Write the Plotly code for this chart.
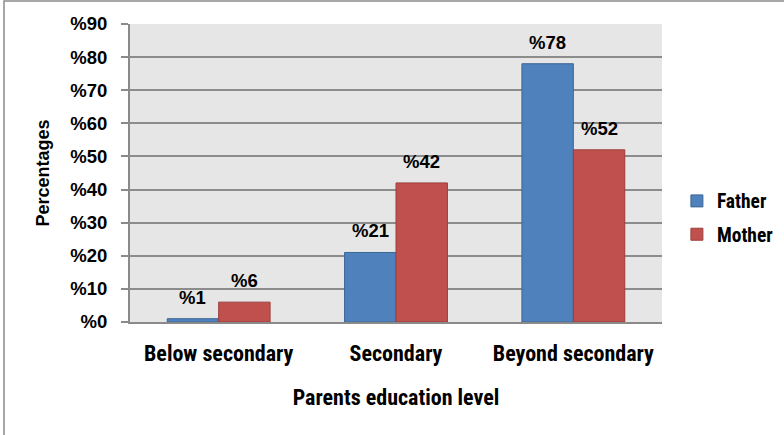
import plotly.graph_objects as go

categories = ["Below secondary", "Secondary", "Beyond secondary"]
father = [1, 21, 78]
mother = [6, 42, 52]
y_ticks = [0, 10, 20, 30, 40, 50, 60, 70, 80, 90]
y_tick_text = [f"%{t}" for t in y_ticks]

W, H = 784, 435
L, R, T, B = 130, 122, 24, 113
pw, ph = W - L - R, H - T - B
BARGAP = 0.42

narrow = "Liberation Sans Narrow, Arial Narrow, Roboto Condensed, Liberation Sans, sans-serif"
wide = "Liberation Sans, Arial, sans-serif"

series = [
    ("Father", father, "#4f81bd", "#3b6796", -1),
    ("Mother", mother, "#c0504d", "#9c3e3b", 1),
]

# half of one bar's width in pixels, used to centre the value labels
half_bar = pw / len(categories) * (1 - BARGAP) / 4

fig = go.Figure()
for name, vals, fill, edge, side in series:
    fig.add_trace(go.Bar(
        name=name, x=categories, y=vals, legendgroup=name,
        marker=dict(color=fill, line=dict(color=edge, width=1)),
    ))
    for cat, v in zip(categories, vals):
        fig.add_annotation(
            x=cat, y=v, text=f"%{v}", showarrow=False,
            xanchor="center", yanchor="bottom",
            xshift=side * half_bar, yshift=9,
            font=dict(family=wide, size=18.5, color="black", weight="bold"),
        )

# outer chart frame
fig.add_shape(type="rect", xref="paper", yref="paper",
              x0=(4 - L) / pw, x1=(W + 10 - L) / pw,
              y0=(T + ph - (H + 10)) / ph, y1=(T + ph - 1) / ph,
              line=dict(color="#8a8a8a", width=1.5), fillcolor="rgba(0,0,0,0)", layer="below")

fig.update_layout(
    width=W, height=H,
    margin=dict(l=L, r=R, t=T, b=B, autoexpand=False),
    paper_bgcolor="white", plot_bgcolor="#e6e6e6",
    barmode="group", bargap=BARGAP, bargroupgap=0,
    legend=dict(x=1.028, y=0.35, xanchor="left", yanchor="middle",
                traceorder="grouped",
                font=dict(family=narrow, size=19.5, color="black", weight="bold"),
                itemwidth=30, tracegroupgap=5, bgcolor="rgba(0,0,0,0)"),
    xaxis=dict(
        tickfont=dict(family=narrow, size=22, color="black", weight="bold"),
        title=dict(text="Parents education level", standoff=24,
                   font=dict(family=narrow, size=22, color="black", weight="bold")),
        showline=True, linecolor="#8a8a8a", linewidth=2, ticks="",
        ticklabelstandoff=11,
    ),
    yaxis=dict(
        range=[0, 90], tickvals=y_ticks, ticktext=y_tick_text,
        tickfont=dict(family=wide, size=18.5, color="black", weight="bold"),
        title=dict(text="Percentages", standoff=16,
                   font=dict(family=wide, size=18, color="black", weight="bold")),
        showgrid=True, gridcolor="#8c8c8c", gridwidth=1.5,
        showline=True, linecolor="#8a8a8a", linewidth=2,
        ticks="outside", ticklen=7, tickcolor="#8a8a8a", tickwidth=1.5,
        ticklabelstandoff=10,
        zeroline=False,
    ),
)

fig.write_html("out.html")
